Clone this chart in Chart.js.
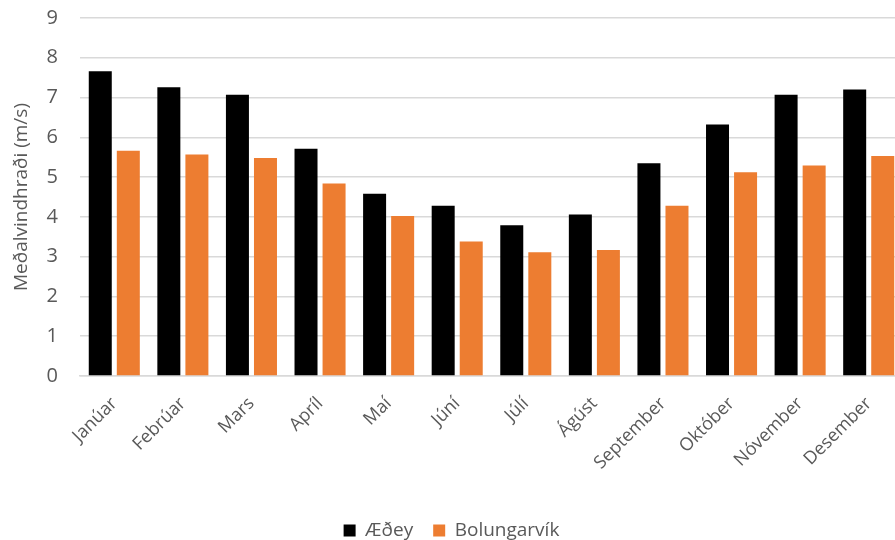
<!DOCTYPE html>
<html>
<head>
<meta charset="utf-8">
<script src="https://cdn.jsdelivr.net/npm/chart.js@4"></script>
<style>
  html, body { margin: 0; padding: 0; background: #fff; overflow: hidden; }
  #wrap { width: 903px; height: 540px; }
</style>
</head>
<body>
<div id="wrap"><canvas id="vindChart" width="903" height="540"></canvas></div>
<script>
// Meðalvindhraði eftir mánuðum
var manudir = ["Janúar", "Febrúar", "Mars", "Apríl", "Maí", "Júní", "Júlí", "Ágúst", "September", "Október", "Nóvember", "Desember"];
var aedey = [7.66, 7.26, 7.07, 5.71, 4.58, 4.28, 3.79, 4.06, 5.35, 6.32, 7.07, 7.20];
var bolungarvik = [5.66, 5.57, 5.48, 4.84, 4.02, 3.38, 3.11, 3.17, 4.28, 5.12, 5.29, 5.53];
var yTicks = [0, 1, 2, 3, 4, 5, 6, 7, 8, 9];

var gra = "#595959";
var letur = "'Open Sans', 'Liberation Sans', sans-serif";

const ctx = document.getElementById("vindChart").getContext("2d");
new Chart(ctx, {
  type: "bar",
  data: {
    labels: manudir,
    datasets: [
      {
        label: "Æðey",
        data: aedey,
        backgroundColor: "#000000",
        categoryPercentage: 0.818,
        barPercentage: 0.82,
      },
      {
        label: "Bolungarvík",
        data: bolungarvik,
        backgroundColor: "#ED7D31",
        categoryPercentage: 0.818,
        barPercentage: 0.82,
      },
    ],
  },
  options: {
    responsive: false,
    animation: false,
    layout: { padding: { top: 18, right: 0, bottom: -10, left: 0 } },
    plugins: {
      legend: {
        position: "bottom",
        labels: {
          color: gra,
          font: { family: letur, size: 19 },
          boxWidth: 12,
          boxHeight: 12,
          padding: 20,
        },
      },
      tooltip: { enabled: true },
    },
    scales: {
      x: {
        afterFit: function (scale) {
          scale.height = 125;
        },
        grid: { display: false },
        border: { color: "#d9d9d9", width: 1.5 },
        ticks: {
          color: gra,
          font: { family: letur, size: 18 },
          maxRotation: 45,
          minRotation: 45,
          padding: 9,
        },
      },
      y: {
        min: 0,
        max: 9,
        afterFit: function (scale) {
          scale.width = 80;
          scale.paddingTop = 0;
          scale.paddingBottom = 0;
        },
        afterBuildTicks: function (scale) {
          scale.ticks = yTicks.map(function (v) { return { value: v }; });
        },
        grid: { color: "#d9d9d9", lineWidth: 1.5, drawTicks: false },
        border: { display: false },
        ticks: {
          color: gra,
          font: { family: letur, size: 20 },
          padding: 22,
        },
        title: {
          display: true,
          text: "Meðalvindhraði (m/s)",
          color: gra,
          font: { family: letur, size: 19 },
          padding: { top: 10, bottom: 0 },
        },
      },
    },
  },
});
</script>
</body>
</html>
